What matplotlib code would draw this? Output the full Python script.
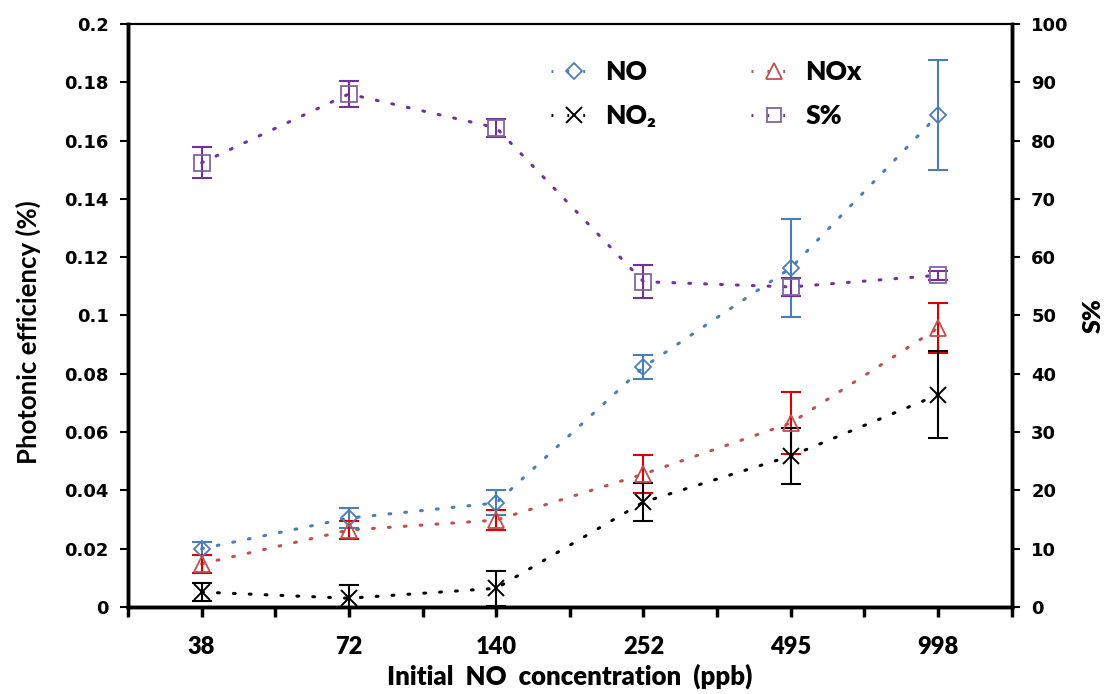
import matplotlib
matplotlib.use('Agg')
import matplotlib.pyplot as plt
from matplotlib.lines import Line2D
from matplotlib.ticker import MultipleLocator, FixedLocator

# data
conc = ['38', '72', '140', '252', '495', '998']
no_val   = [0.0200, 0.0305, 0.0357, 0.0823, 0.1163, 0.1688]
no_err   = [0.0023, 0.0033, 0.0043, 0.0042, 0.0168, 0.0188]
nox_val  = [0.0148, 0.0264, 0.0298, 0.0456, 0.0631, 0.0957]
nox_err  = [0.0030, 0.0030, 0.0033, 0.0064, 0.0106, 0.0085]
no2_val  = [0.0051, 0.0030, 0.0064, 0.0360, 0.0518, 0.0728]
no2_err  = [0.0030, 0.0045, 0.0060, 0.0065, 0.0095, 0.0150]
s_val    = [76.2, 88.0, 82.2, 55.8, 54.9, 56.9]
s_err    = [2.7, 2.3, 1.5, 2.8, 1.5, 0.8]

x = list(range(len(conc)))
DOT = (0, (0.6, 4.6))
LW = 2.2

fig = plt.figure(figsize=(11.13, 6.94), dpi=100)
ax = fig.add_axes([0.115, 0.1254, 0.794, 0.8400])
ax2 = ax.twinx()

def series(a, y, e, mk, lc, mc, ec, ms, mew=1.3):
    a.plot(x, y, linestyle=DOT, color=lc, lw=LW, dash_capstyle='round', zorder=2)
    a.errorbar(x, y, yerr=e, fmt='none', ecolor=ec, elinewidth=1.5, capsize=7,
               capthick=1.5, zorder=3)
    a.plot(x, y, linestyle='none', marker=mk, ms=ms, mfc='none', mec=mc,
           mew=mew, zorder=4)

series(ax, no_val, no_err, 'D', '#4a7ebb', '#4a7ebb', '#4a7ebb', 8)
series(ax, nox_val, nox_err, '^', '#c0504d', '#c0504d', '#dd0000', 11)
series(ax, no2_val, no2_err, 'x', 'black', 'black', 'black', 11, 1.4)
series(ax2, s_val, s_err, 's', '#7030a0', '#8064a2', '#7030a0', 12)

ax.set_xlim(-0.5, 5.5)
ax.set_ylim(0, 0.2)
ax2.set_ylim(0, 100)
ax.xaxis.set_major_locator(FixedLocator(x))
ax.xaxis.set_minor_locator(FixedLocator([i + 0.5 for i in range(-1, 6)]))
ax.set_xticklabels(conc)
ax.yaxis.set_major_locator(MultipleLocator(0.02))
ax2.yaxis.set_major_locator(MultipleLocator(10))
ax.set_yticklabels(['0' if v == 0 else ('%g' % round(v, 2)) for v in ax.get_yticks()])

for a in (ax, ax2):
    for s in ('left', 'bottom', 'right'):
        a.spines[s].set_linewidth(2.5)
    a.spines['top'].set_linewidth(1.5)

ax.tick_params(axis='x', which='both', direction='out', length=7, width=2.5, pad=14,
               labelsize=17)
ax.tick_params(axis='y', direction='out', length=6, width=1.5, pad=8, labelsize=13)
ax2.tick_params(axis='y', direction='out', length=6, width=1.5, pad=8, labelsize=13)

for lab in ax.get_xticklabels():
    lab.set_family('Lato'); lab.set_fontweight('heavy')
for lab in ax.get_yticklabels() + ax2.get_yticklabels():
    lab.set_family('DejaVu Sans'); lab.set_fontweight('bold')

ax.set_xlabel('Initial  NO  concentration  (ppb)', family='Lato', fontweight='heavy',
              fontsize=18.5, labelpad=4)
ax.set_ylabel('Photonic efficiency (%)', family='Lato', fontweight='bold', fontsize=18.5)
ax.yaxis.set_label_coords(-0.099, 0.472)
ax2.set_ylabel('S%', family='Lato', fontweight='heavy', fontsize=18, labelpad=10)

handles = [
    Line2D([], [], linestyle=DOT, lw=LW, color='#4a7ebb', marker='D', ms=8, mfc='none',
           mec='#4a7ebb', mew=1.3),
    Line2D([], [], linestyle=DOT, lw=LW, color='black', marker='x', ms=11, mec='black',
           mew=1.4),
    Line2D([], [], linestyle=DOT, lw=LW, color='#c0504d', marker='^', ms=11, mfc='none',
           mec='#c0504d', mew=1.3),
    Line2D([], [], linestyle=DOT, lw=LW, color='#7030a0', marker='s', ms=10, mfc='none',
           mec='#8064a2', mew=1.3),
]
labels = ['NO', 'NO₂', 'NOx', 'S%']
leg = ax2.legend(handles, labels, ncol=2, frameon=False, loc='upper left',
                 bbox_to_anchor=(0.474, 0.948), bbox_transform=fig.transFigure,
                 prop={'family': 'Lato', 'weight': 'heavy', 'size': 19},
                 columnspacing=3.6, handlelength=1.7, labelspacing=0.78, handletextpad=0.35)

fig.savefig('out.png', dpi=100)
